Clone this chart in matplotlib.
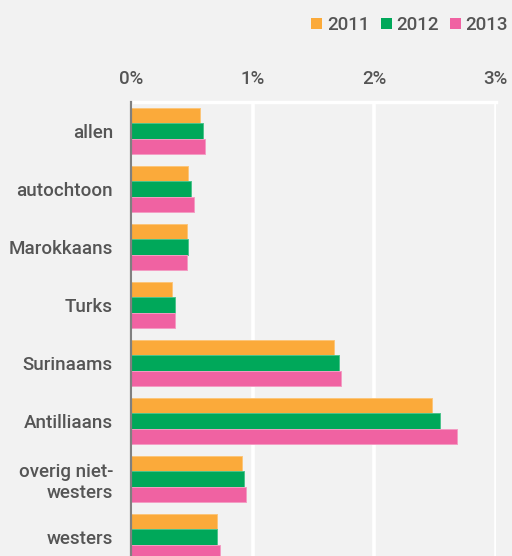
import matplotlib.pyplot as plt
import numpy as np
from matplotlib.patches import Patch

plt.rcParams['font.family'] = ['Roboto', 'DejaVu Sans']
plt.rcParams['font.weight'] = 'medium'

groepen = ['allen', 'autochtoon', 'Marokkaans', 'Turks', 'Surinaams',
           'Antilliaans', 'overig niet-\nwesters', 'westers']
jaren = ['2011', '2012', '2013']

# aandeel in procenten per groep
waarden_2011 = [0.57, 0.47, 0.46, 0.34, 1.67, 2.48, 0.91, 0.71]
waarden_2012 = [0.59, 0.49, 0.47, 0.36, 1.71, 2.54, 0.93, 0.71]
waarden_2013 = [0.61, 0.52, 0.46, 0.36, 1.73, 2.68, 0.95, 0.73]

kleuren = ['#fbaa3a', '#00a85a', '#f062a2']
randen = ['#fcc57a', '#4cc38c', '#f49cc3']
tekstkleur = '#555555'
achtergrond = '#f2f2f2'

fig = plt.figure(figsize=(5.12, 5.56), dpi=100, facecolor=achtergrond)
ax = fig.add_axes([131 / 512, -10 / 556, 364.5 / 512, 464 / 556])
ax.set_facecolor(achtergrond)

y = np.arange(len(groepen))
hoogte = 0.267
reeksen = [waarden_2011, waarden_2012, waarden_2013]
for i, (waarden, kleur, rand) in enumerate(zip(reeksen, kleuren, randen)):
    ax.barh(y + (i - 1) * hoogte, waarden, height=hoogte, color=kleur,
            edgecolor=rand, linewidth=0.7, zorder=3)

ax.set_xlim(0, 3)
ax.set_ylim(len(groepen) - 0.5, -0.5)
ax.set_xticks([0, 1, 2, 3])
ax.set_xticklabels(['0%', '1%', '2%', '3%'])
ax.xaxis.tick_top()
ax.set_yticks(y)
ax.set_yticklabels(groepen, linespacing=1.25)
ax.tick_params(axis='x', length=0, pad=10, labelsize=13.5, labelcolor=tekstkleur)
ax.tick_params(axis='y', length=0, pad=13, labelsize=13.5, labelcolor=tekstkleur)

ax.grid(axis='x', color='white', linewidth=2.6, zorder=1)
for kant in ['right', 'bottom']:
    ax.spines[kant].set_visible(False)
ax.spines['top'].set_color('white')
ax.spines['top'].set_linewidth(2.4)
ax.spines['left'].set_color('#808080')
ax.spines['left'].set_linewidth(1.6)
ax.spines['left'].set_zorder(4)

handles = [Patch(facecolor=k, edgecolor='none') for k in kleuren]
fig.legend(handles, jaren, loc='upper right',
           bbox_to_anchor=(1 - 4 / 512, 1 - 16 / 556),
           ncol=3, frameon=False, fontsize=13.5, labelcolor=tekstkleur,
           handlelength=0.58, handleheight=0.58, handletextpad=0.25,
           columnspacing=0.6, borderaxespad=0, borderpad=0)

fig.savefig('out.png', dpi=100, facecolor=achtergrond)
